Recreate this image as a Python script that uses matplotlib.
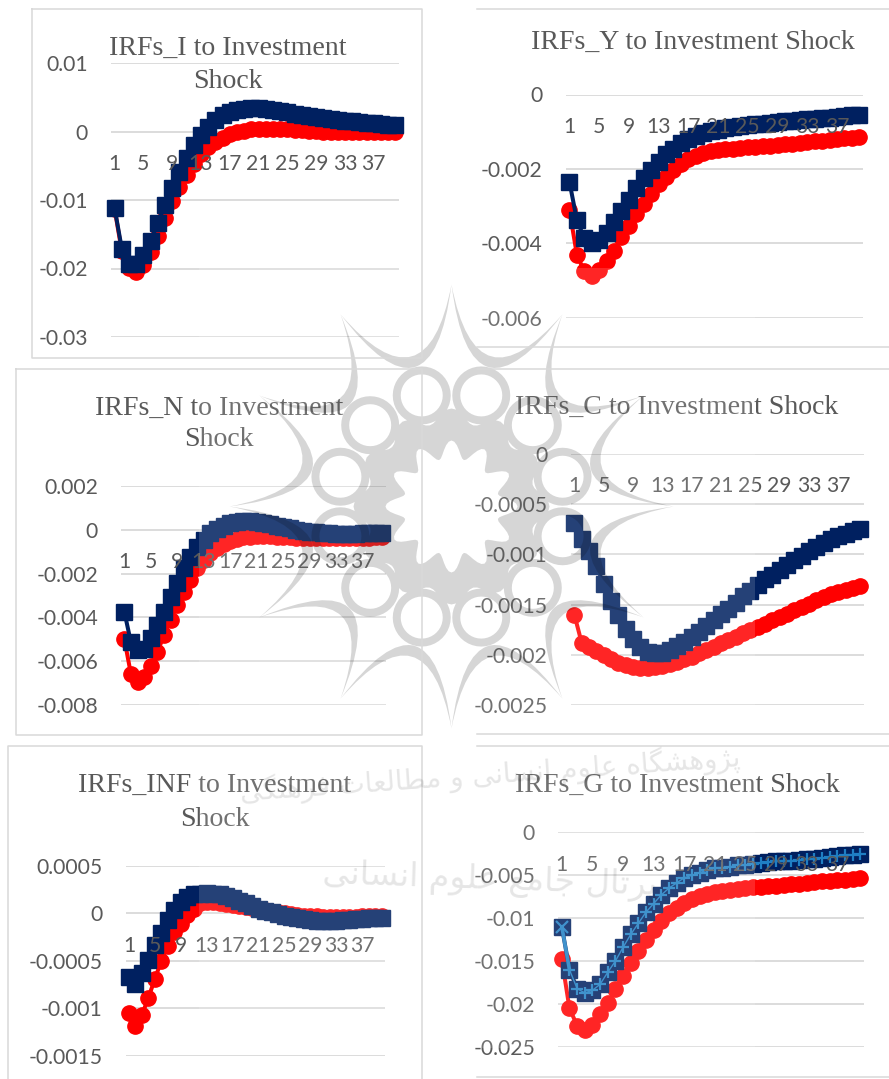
import numpy as np
import matplotlib
matplotlib.use('Agg')
import matplotlib.pyplot as plt
from matplotlib.path import Path
from matplotlib.patches import PathPatch, Rectangle

W, H = 889, 1079

# IRFs, periods 1..40
periods = list(range(1, 41))
x_labels = [1, 5, 9, 13, 17, 21, 25, 29, 33, 37]

i_red = [-.0113, -.0175, -.0199, -.0205, -.0195, -.0176, -.0152, -.0126, -.0102, -.0081,
         -.0063, -.0047, -.0033, -.0023, -.0015, -.0009, -.0004, -.0001, .0001, .0003,
         .0004, .0004, .0004, .0003, .0003, .0002, .0002, .0001, .0001, 0,
         0, -.0001, -.0001, -.0001, -.0001, -.0001, -.0001, -.0001, -.0001, -.0001]
i_blue = [-.0112, -.0171, -.0193, -.0194, -.018, -.016, -.0134, -.0107, -.0083, -.0059,
          -.0039, -.002, -.0005, .0007, .0017, .0024, .0029, .0032, .0033, .0034,
          .0034, .0033, .0032, .003, .0028, .0026, .0024, .0022, .0021, .0019,
          .0018, .0017, .0016, .0015, .0014, .0013, .0012, .0011, .001, .0009]

y_red = [-.0031, -.0043, -.00475, -.00487, -.00472, -.00448, -.00419, -.00383, -.00352, -.00321,
         -.00294, -.00267, -.00241, -.00221, -.00203, -.00187, -.00174, -.00164, -.00157, -.00152,
         -.00149, -.00147, -.00145, -.00143, -.00142, -.00140, -.00139, -.00137, -.00136, -.00134,
         -.00132, -.0013, -.00128, -.00126, -.00124, -.00122, -.0012, -.00118, -.00116, -.00115]
y_blue = [-.00234, -.00337, -.00386, -.004, -.0039, -.00372, -.00341, -.00314, -.00283, -.00252,
          -.00225, -.00203, -.0018, -.0016, -.00145, -.00131, -.0012, -.00112, -.00104, -.00098,
          -.00094, -.0009, -.00087, -.00084, -.00081, -.00079, -.00078, -.00076, -.00074, -.00072,
          -.00071, -.00069, -.00067, -.00065, -.00063, -.00062, -.0006, -.00058, -.00056, -.00054]

n_red = [-.00498, -.00658, -.00694, -.00673, -.00623, -.00559, -.00479, -.00411, -.00342, -.00282,
         -.00229, -.00176, -.00138, -.00108, -.00085, -.00067, -.00052, -.00042, -.00035, -.00032,
         -.00029, -.00029, -.0003, -.00032, -.00033, -.00035, -.00036, -.00038, -.00039, -.0004,
         -.0004, -.0004, -.0004, -.0004, -.00039, -.00038, -.00037, -.00036, -.00035, -.00034]
n_blue = [-.00373, -.00514, -.00547, -.00544, -.00494, -.00436, -.00376, -.00308, -.00241, -.00176,
          -.00123, -.00077, -.00047, -.00017, .00003, .00018, .00029, .00035, .00038, .00038,
          .00035, .0003, .00024, .00018, .00012, .00006, 0, -.00006, -.00009, -.00012,
          -.00015, -.00017, -.00018, -.00018, -.00018, -.00018, -.00017, -.00017, -.00015, -.00015]

c_red = [-.0016, -.00188, -.00192, -.00196, -.002, -.00204, -.00208, -.0021, -.00212, -.00213,
         -.00213, -.00212, -.00211, -.00209, -.00207, -.00204, -.00202, -.00198, -.00195, -.00192,
         -.00188, -.00185, -.00182, -.00178, -.00175, -.00172, -.00169, -.00165, -.00162, -.00159,
         -.00155, -.00152, -.00149, -.00145, -.00142, -.00139, -.00137, -.00135, -.00133, -.00131]
c_blue = [-.00069, -.00085, -.00097, -.00112, -.00129, -.00146, -.0016, -.00174, -.00184, -.00192,
          -.00197, -.00198, -.00198, -.00195, -.00191, -.00187, -.00182, -.00177, -.00171, -.00165,
          -.00159, -.00154, -.00148, -.00141, -.00136, -.0013, -.00125, -.00121, -.00116, -.00111,
          -.00106, -.00102, -.00097, -.00093, -.00089, -.00085, -.00082, -.0008, -.00077, -.00075]

inf_red = [-.00105, -.00119, -.00107, -.00089, -.00069, -.0005, -.00034, -.0002, -.00011, -.00002,
           .00005, .00011, .00012, .00012, .00011, .0001, .00009, .00008, .00007, .00006,
           .00005, .00004, .00002, .00001, 0, -.00001, -.00002, -.00003, -.00003, -.00003,
           -.00004, -.00004, -.00004, -.00004, -.00004, -.00004, -.00003, -.00003, -.00003, -.00003]
inf_blue = [-.00067, -.00074, -.00063, -.00049, -.00033, -.00021, -.00007, .00004, .00012, .00017,
            .0002, .00021, .00022, .00021, .0002, .00018, .00016, .00013, .00011, .00008,
            .00005, .00003, .00001, -.00001, -.00003, -.00004, -.00005, -.00006, -.00007, -.00008,
            -.00008, -.00008, -.00008, -.00007, -.00007, -.00006, -.00006, -.00005, -.00005, -.00005]

g_red = [-.0148, -.0205, -.0225, -.023, -.0224, -.0212, -.0199, -.0183, -.0167, -.0152,
         -.0138, -.0125, -.0114, -.0103, -.0094, -.0088, -.0082, -.0078, -.0074, -.0072,
         -.007, -.0068, -.0067, -.0066, -.0065, -.0064, -.0064, -.0063, -.0062, -.0061,
         -.006, -.006, -.0059, -.0058, -.0057, -.0057, -.0056, -.0055, -.0054, -.0053]
g_blue = [-.011, -.016, -.0182, -.0187, -.0184, -.0177, -.0163, -.015, -.0134, -.0119,
          -.0106, -.0093, -.0083, -.0073, -.0065, -.0059, -.0053, -.005, -.0047, -.0044,
          -.0042, -.0041, -.004, -.0038, -.0038, -.0037, -.0036, -.0035, -.0034, -.0034,
          -.0033, -.0032, -.0031, -.0031, -.003, -.0029, -.0028, -.0027, -.0026, -.0025]

# value, text pairs for the y axes
i_ticks = ([.01, 0, -.01, -.02, -.03], ['0.01', '0', '-0.01', '-0.02', '-0.03'])
y_ticks = ([0, -.002, -.004, -.006], ['0', '-0.002', '-0.004', '-0.006'])
n_ticks = ([.002, 0, -.002, -.004, -.006, -.008], ['0.002', '0', '-0.002', '-0.004', '-0.006', '-0.008'])
c_ticks = ([0, -.0005, -.001, -.0015, -.002, -.0025], ['0', '-0.0005', '-0.001', '-0.0015', '-0.002', '-0.0025'])
inf_ticks = ([.0005, 0, -.0005, -.001, -.0015], ['0.0005', '0', '-0.0005', '-0.001', '-0.0015'])
g_ticks = ([0, -.005, -.01, -.015, -.02, -.025], ['0', '-0.005', '-0.01', '-0.015', '-0.02', '-0.025'])

GREY = '#595959'
GRID = '#d9d9d9'
RED = '#ff0000'
NAVY = '#002060'
LIGHT = '#1f7fc4'

plt.rcParams['font.family'] = ['Lato', 'DejaVu Sans']

fig = plt.figure(figsize=(W / 100, H / 100), dpi=100, facecolor='white')


def panel(box, ticks, red, blue):
    # box is left, top, right, bottom of the plot area in pixels
    l, t, r, b = box
    ax = fig.add_axes([l / W, 1 - b / H, (r - l) / W, (b - t) / H])
    ax.patch.set_visible(False)
    # category labels hang off the zero line, not the bottom of the plot
    ax.spines['bottom'].set_position(('data', 0))
    for s in ax.spines.values():
        s.set_visible(False)
    ax.plot(periods, red, color=RED, lw=2.9, marker='o', ms=11, clip_on=False, zorder=3)
    ax.plot(periods, blue, color=NAVY, lw=2.9, marker='s', ms=11, clip_on=False, zorder=4)
    ax.set_xlim(0.5, 40.5)
    ax.set_ylim(min(ticks[0]), max(ticks[0]))
    ax.set_yticks(ticks[0], ticks[1])
    ax.set_xticks(x_labels, [str(v) for v in x_labels])
    ax.grid(axis='y', color=GRID, lw=1.3)
    ax.tick_params(axis='y', length=0, pad=16.5, labelsize=15.2, labelcolor=GREY)
    ax.tick_params(axis='x', length=0, pad=16, labelsize=15.2, labelcolor=GREY)
    # x labels sit over the lines, grid under them
    ax.yaxis.set_zorder(0.5)
    ax.xaxis.set_zorder(6)
    return ax


panel((111, 63, 399, 337), i_ticks, i_red, i_blue)
panel((565.7, 94.5, 863, 318), y_ticks, y_red, y_blue)
panel((121, 485.7, 385.7, 705.3), n_ticks, n_red, n_blue)
panel((570.7, 453.7, 864, 705.3), c_ticks, c_red, c_blue)
panel((125.7, 866, 385, 1055.7), inf_ticks, inf_red, inf_blue)
ax6 = panel((558, 832.3, 864, 1047), g_ticks, g_red, g_blue)
# third series of the G chart, same values as the navy one
ax6.plot(periods[:2], g_blue[:2], color=LIGHT, lw=2.6, clip_on=False, zorder=5)
ax6.plot(periods[1:], g_blue[1:], color=LIGHT, lw=1.0, marker='+', ms=9, mew=1.6, clip_on=False, zorder=5)
ax6.plot(periods[:1], g_blue[:1], color=LIGHT, marker='x', ms=8.5, mew=1.6, clip_on=False, zorder=5)

titles = [
    (227.5, 48, 'IRFs_I to Investment'), (227.5, 81, 'Shock'),
    (692.8, 42, 'IRFs_Y to Investment Shock'),
    (219, 408, 'IRFs_N to Investment'), (219, 440, 'Shock'),
    (676.7, 407.7, 'IRFs_C to Investment Shock'),
    (214.8, 785, 'IRFs_INF to Investment'), (214.8, 819, 'Shock'),
    (677, 785, 'IRFs_G to Investment Shock'),
]
for tx, ty, s in titles:
    fig.text(tx / W, 1 - ty / H, s, family='Liberation Serif', fontsize=20.1, color=GREY,
             ha='center', va='center')

# top layer in pixel coordinates: chart frames and the page watermark
top = fig.add_axes([0, 0, 1, 1], zorder=10)
top.set_xlim(0, W)
top.set_ylim(H, 0)
top.axis('off')

top.plot([32, 422, 422, 32, 32], [9, 9, 358, 358, 9], color=GRID, lw=1.1)
top.plot([16, 422, 422, 16, 16], [368.5, 368.5, 735, 735, 368.5], color=GRID, lw=1.1)
top.plot([8, 8, 422, 422], [1079, 745.7, 745.7, 1079], color=GRID, lw=1.1)
for fy in [9.3, 347, 368.5, 734, 745.7, 1076.7]:
    top.plot([477, 889], [fy, fy], color=GRID, lw=1.1)

# the watermark washes out what lies beneath it
top.add_patch(Rectangle((199, 268), 556, 780, facecolor='white', alpha=0.15, lw=0))

cx, cy = 451.5, 506.5


def pol(r, deg):
    a = np.radians(deg)
    return cx + r * np.cos(a), cy - r * np.sin(a)


verts, codes = [], []


def add_loop(pts):
    verts.extend(pts)
    verts.append(pts[0])
    codes.extend([Path.MOVETO] + [Path.LINETO] * (len(pts) - 1) + [Path.CLOSEPOLY])


t = np.linspace(0, 2 * np.pi, 40, endpoint=False)
for k in range(12):
    mx, my = pol(115, 15 + 30 * k)
    add_loop(list(zip(mx + 29 * np.cos(t), my - 29 * np.sin(t))))
    add_loop(list(zip(mx + 21 * np.cos(t[::-1]), my - 21 * np.sin(t[::-1]))))
    # crescent between two spikes, thin at the tips
    verts += [pol(222, 30 * k), pol(96, 15 + 30 * k), pol(222, 30 * (k + 1)),
              pol(74, 15 + 30 * k), pol(222, 30 * k)]
    codes += [Path.MOVETO, Path.CURVE3, Path.CURVE3, Path.CURVE3, Path.CURVE3]

# central band with a star shaped hole and small diamond holes
deg = np.arange(0, 360, 2.5)
add_loop([pol(91 + 7 * np.cos(np.radians(12 * d)), d) for d in deg])
add_loop([pol(57 + 9 * np.cos(np.radians(12 * d)), d) for d in deg[::-1]])
for k in range(12):
    d = 30 * k
    add_loop([pol(94, d), pol(87, d + 5), pol(78, d), pol(87, d - 5)])
top.add_patch(PathPatch(Path(verts, codes), facecolor='black', edgecolor='none', alpha=0.16))

# Persian watermark lines. matplotlib neither joins nor reorders Arabic script,
# so the joined forms are picked here and the string is reversed
forms = {
    'ا': 'ﺍﺎ', 'و': 'ﻭﻮ', 'ر': 'ﺭﺮ', 'ژ': 'ﮊﮋ',
    'پ': 'ﭖﭗﭘﭙ', 'ت': 'ﺕﺖﺗﺘ', 'ج': 'ﺝﺞﺟﺠ', 'س': 'ﺱﺲﺳﺴ', 'ش': 'ﺵﺶﺷﺸ',
    'ط': 'ﻁﻂﻃﻄ', 'ع': 'ﻉﻊﻋﻌ', 'ف': 'ﻑﻒﻓﻔ', 'گ': 'ﮒﮓﮔﮕ', 'ل': 'ﻝﻞﻟﻠ',
    'م': 'ﻡﻢﻣﻤ', 'ن': 'ﻥﻦﻧﻨ', 'ه': 'ﻩﻪﻫﻬ', 'ی': 'ﯼﯽﯾﯿ',
}


def shape(s):
    out = []
    for i, ch in enumerate(s):
        if ch not in forms:
            out.append(ch)
            continue
        prev_joins = i > 0 and s[i - 1] in forms and len(forms[s[i - 1]]) == 4
        next_joins = i + 1 < len(s) and s[i + 1] in forms and len(forms[ch]) == 4
        idx = {(False, False): 0, (True, False): 1, (False, True): 2, (True, True): 3}[(prev_joins, next_joins)]
        out.append(forms[ch][idx])
    return ''.join(out)[::-1]


top.text(490, 775, shape('پژوهشگاه علوم انسانی و مطالعات فرهنگی'), family='DejaVu Sans', fontsize=20,
         color='black', alpha=0.1, ha='center', va='center', rotation=4)
top.text(490, 880, shape('پرتال جامع علوم انسانی'), family='DejaVu Sans', fontsize=24,
         color='black', alpha=0.1, ha='center', va='center', rotation=-2)

fig.savefig('out.png', dpi=100)
